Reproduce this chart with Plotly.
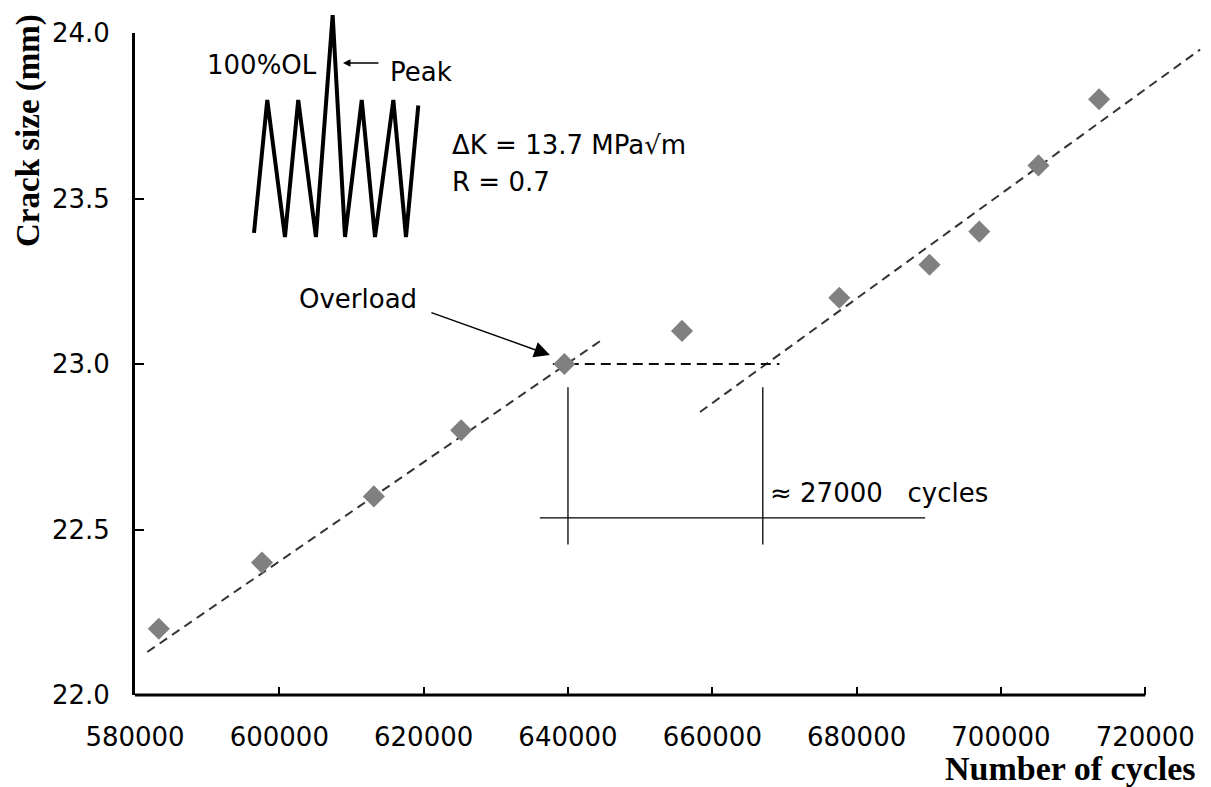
import plotly.graph_objects as go

# ---- measured crack growth data ----
cycles = [583300, 597600, 613100, 625200, 639500, 655800, 677600, 690100, 697000, 705200, 713600]
crack_mm = [22.2, 22.4, 22.6, 22.8, 23.0, 23.1, 23.2, 23.3, 23.4, 23.6, 23.8]

# ---- linear trends before and after the overload ----
pre_fit_cycles = [581700, 644500]
pre_fit_crack = [22.13, 23.07]
post_fit_cycles = [658300, 727600]
post_fit_crack = [22.855, 23.95]

# ---- delay construction (overload at 23.0 mm, growth resumes ~27000 cycles later) ----
overload_cycle = 640000
resume_cycle = 667000
overload_crack = 23.0
level_span = [637900, 669300]
drop_crack = [22.93, 22.455]
delay_bar_crack = 22.535
delay_bar_span = [636100, 689500]

# ---- loading waveform sketch (relative time, relative load) ----
wave_t = [0, 0.84, 1.96, 2.80, 3.92, 4.98, 5.76, 6.82, 7.66, 8.82, 9.62, 10.40]
wave_load = [0.03, 1.0, 0.0, 1.0, 0.0, 1.62, 0.0, 1.0, 0.0, 1.0, 0.0, 0.96]

# ---- axis ticks ----
x_ticks = [580000, 600000, 620000, 640000, 660000, 680000, 700000, 720000]
x_ticktext = [str(v) for v in x_ticks]
y_ticks = [22.0, 22.5, 23.0, 23.5, 24.0]
y_ticktext = ["22.0", "22.5", "23.0", "23.5", "24.0"]

W, H = 1211, 787
ML, MR, MT, MB = 135, 8, 0, 92
PW, PH = W - ML - MR, H - MT - MB


def px(x):
    return (x - ML) / PW


def py(y):
    return (H - MB - y) / PH


SANS = "DejaVu Sans"
SERIF = "Liberation Serif"
DASH_COLOR = "#333333"

fig = go.Figure()

fig.add_trace(go.Scatter(x=pre_fit_cycles, y=pre_fit_crack, mode="lines",
                         line=dict(color=DASH_COLOR, width=2, dash="9px,6px")))
fig.add_trace(go.Scatter(x=post_fit_cycles, y=post_fit_crack, mode="lines",
                         line=dict(color=DASH_COLOR, width=2, dash="9px,6px")))
fig.add_trace(go.Scatter(x=level_span, y=[overload_crack, overload_crack], mode="lines",
                         line=dict(color="#111111", width=2, dash="10px,6px")))
fig.add_trace(go.Scatter(x=[overload_cycle, overload_cycle], y=drop_crack, mode="lines",
                         line=dict(color="black", width=1.3)))
fig.add_trace(go.Scatter(x=[resume_cycle, resume_cycle], y=drop_crack, mode="lines",
                         line=dict(color="black", width=1.3)))
fig.add_trace(go.Scatter(x=delay_bar_span, y=[delay_bar_crack, delay_bar_crack], mode="lines",
                         line=dict(color="black", width=1.3)))

fig.add_trace(go.Scatter(x=cycles, y=crack_mm, mode="markers",
                         marker=dict(symbol="diamond", size=17, color="#808080",
                                     line=dict(width=0))))

fig.add_trace(go.Scatter(x=wave_t, y=wave_load, mode="lines", xaxis="x3", yaxis="y3",
                         line=dict(color="black", width=4)))

annotations = [
    dict(text="100%OL", x=px(205), y=py(65), xanchor="left", yanchor="middle"),
    dict(text="Peak", x=px(388), y=py(72), xanchor="left", yanchor="middle"),
    dict(text="ΔK = 13.7 MPa√m", x=px(450), y=py(145), xanchor="left", yanchor="middle"),
    dict(text="R = 0.7", x=px(450), y=py(182), xanchor="left", yanchor="middle"),
    dict(text="Overload", x=px(358), y=py(299), xanchor="center", yanchor="middle"),
    dict(text="≈ 27000\u00a0\u00a0\u00a0cycles", x=px(768), y=py(493),
         xanchor="left", yanchor="middle"),
]
for a in annotations:
    a.update(xref="paper", yref="paper", showarrow=False,
             font=dict(family=SANS, size=26, color="black"))

annotations += [
    dict(text="Number of cycles", x=px(1198), y=py(768), xref="paper", yref="paper",
         xanchor="right", yanchor="middle", showarrow=False,
         font=dict(family=SERIF, size=34, color="black", weight="bold")),
    dict(text="Crack size (mm)", x=px(29), y=py(131), xref="paper", yref="paper",
         xanchor="center", yanchor="middle", textangle=-90, showarrow=False,
         font=dict(family=SERIF, size=33, color="black", weight="bold")),
    # arrow to the overload point
    dict(text="", x=637500, y=23.027, xref="x", yref="y", showarrow=True,
         ax=-120, ay=-43, arrowhead=2, arrowsize=2.1, arrowwidth=1.5, arrowcolor="black"),
    # arrow to the overload peak of the waveform
    dict(text="", x=5.63, y=1.27, xref="x3", yref="y3", showarrow=True,
         ax=37, ay=0, arrowhead=2, arrowsize=1, arrowwidth=1.5, arrowcolor="black"),
]

fig.update_layout(
    width=W, height=H,
    margin=dict(l=ML, r=MR, t=MT, b=MB, autoexpand=False),
    paper_bgcolor="white", plot_bgcolor="white",
    showlegend=False,
    xaxis=dict(range=[580000, 728000], domain=[0, 1], anchor="y",
               tickvals=x_ticks, ticktext=x_ticktext,
               ticks="inside", ticklen=8, tickwidth=2, tickcolor="black",
               showline=False, showgrid=False, zeroline=False,
               ticklabelstandoff=24,
               tickfont=dict(family=SANS, size=26, color="black")),
    yaxis=dict(range=[22, 24], domain=[0, (H - MB - 33) / PH], anchor="x",
               tickvals=y_ticks, ticktext=y_ticktext,
               ticks="inside", ticklen=9, tickwidth=2, tickcolor="black",
               showline=True, linewidth=3, linecolor="black",
               showgrid=False, zeroline=False,
               ticklabelstandoff=17,
               tickfont=dict(family=SANS, size=26, color="black")),
    xaxis3=dict(domain=[px(246.1), px(426.2)], range=[-0.5, 10.9], anchor="y3",
                visible=False),
    yaxis3=dict(domain=[py(250.7), py(1.4)], range=[-0.1, 1.72], anchor="x3",
                visible=False),
    shapes=[dict(type="line", xref="x", yref="paper", x0=580000, x1=720000, y0=0, y1=0,
                 line=dict(color="black", width=3))],
    annotations=annotations,
)

fig.write_html("out.html", config={"displayModeBar": False})
